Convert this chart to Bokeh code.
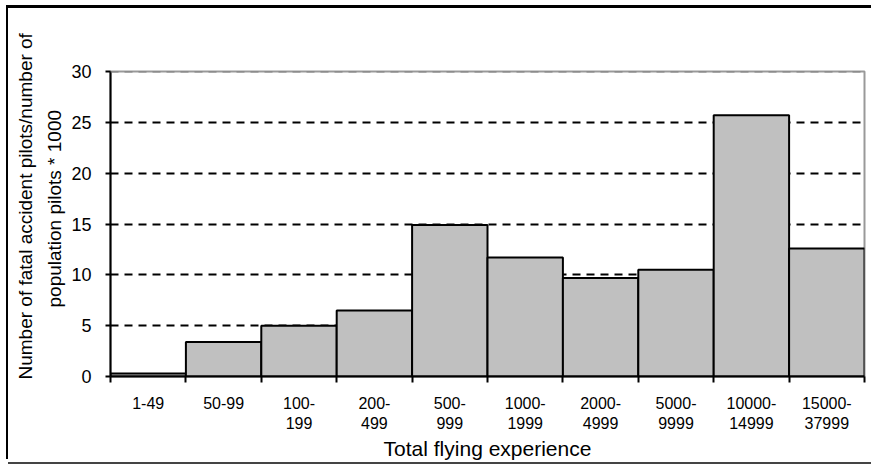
from bokeh.models import Range1d, FixedTicker, Span, Title
from bokeh.plotting import figure
from bokeh.embed import file_html
from bokeh.resources import INLINE

experience = ["1-49", "50-99", "100-\n199", "200-\n499", "500-\n999", "1000-\n1999",
              "2000-\n4999", "5000-\n9999", "10000-\n14999", "15000-\n37999"]
rate = [0.3, 3.4, 5.0, 6.5, 14.9, 11.7, 9.7, 10.5, 25.7, 12.6]
yTicks = [0, 5, 10, 15, 20, 25, 30]
yLabelLines = ["Number of fatal  accident pilots/number of", "population pilots * 1000"]

FONT = "Liberation Sans"

def AddSideTitle(plot, text, offset, standoff):
    # align left + offset: text starts offset px above the frame bottom
    title = Title(text=text, align="left", offset=offset, standoff=standoff, text_font=FONT,
                  text_font_size="19px", text_font_style="normal", text_color="black")
    plot.add_layout(title, "left")

def CreateBarPlot(categories, values):
    # outer chart border drawn as shadows so it does not change the box size
    plot = figure(width=863, height=454, output_backend="svg", toolbar_location=None,
                  margin=(8, 0, 0, 8),
                  min_border_left=102, min_border_right=7, min_border_top=63, min_border_bottom=85,
                  styles={"box-shadow": "-2px -3px 0 0 black, 2px -3px 0 0 black, 0 2px 0 0 #444444"})
    n = len(categories)
    centers = [i + 0.5 for i in range(n)]
    plot.vbar(x=centers, top=values, width=1, bottom=0,
              fill_color="#c0c0c0", line_color="black", line_width=2)

    plot.x_range = Range1d(0, n)
    plot.y_range = Range1d(0, 30)

    # category labels sit in the middle, ticks on the bar edges
    plot.xaxis.ticker = FixedTicker(ticks=centers, minor_ticks=list(range(n + 1)))
    plot.xaxis.major_label_overrides = {c: lab for c, lab in zip(centers, categories)}
    plot.xaxis.major_tick_line_color = None
    plot.xaxis.major_tick_out = 5
    plot.xaxis.minor_tick_in = 0
    plot.xaxis.minor_tick_out = 6
    plot.xaxis.minor_tick_line_width = 2
    plot.xaxis.minor_tick_line_color = "black"
    plot.xaxis.major_label_standoff = 12
    plot.xaxis.axis_label = "Total flying experience"
    plot.xaxis.axis_label_standoff = 2
    plot.xaxis.major_label_text_font_size = "16px"
    plot.xaxis.axis_label_text_font_size = "21px"

    plot.yaxis.ticker = FixedTicker(ticks=yTicks)
    plot.yaxis.minor_tick_line_color = None
    plot.yaxis.major_tick_in = 0
    plot.yaxis.major_tick_out = 5
    plot.yaxis.major_tick_line_width = 2
    plot.yaxis.major_label_standoff = 14
    plot.yaxis.major_label_text_font_size = "18px"

    for ax in plot.axis:
        ax.axis_line_width = 2
        ax.axis_line_color = "black"
        ax.major_label_text_font = FONT
        ax.axis_label_text_font = FONT
        ax.axis_label_text_font_style = "normal"
        ax.major_label_text_color = "black"
        ax.axis_label_text_color = "black"

    # two line y label, outer line added last so it sits further out
    AddSideTitle(plot, yLabelLines[1], 69, 8)
    AddSideTitle(plot, yLabelLines[0], -3, 4)

    plot.xgrid.grid_line_color = None
    plot.ygrid.ticker = FixedTicker(ticks=yTicks[1:-1])
    plot.ygrid.grid_line_color = "black"
    plot.ygrid.grid_line_width = 2
    plot.ygrid.grid_line_dash = "8 6"
    plot.outline_line_color = "#999999"
    plot.outline_line_width = 2
    plot.add_layout(Span(location=yTicks[-1], dimension="width", line_color="#808080",
                         line_width=2, line_dash="8 6"))
    return plot

p = CreateBarPlot(experience, rate)
open("out.html", "w").write(file_html(p, INLINE))
